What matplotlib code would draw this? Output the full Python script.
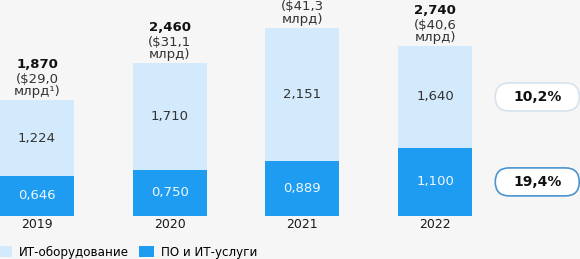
import matplotlib.pyplot as plt
import numpy as np
from matplotlib.patches import FancyBboxPatch

years = ['2019', '2020', '2021', '2022']
hardware = [1.224, 1.710, 2.151, 1.640]
software = [0.646, 0.750, 0.889, 1.100]
totals = ['1,870', '2,460', '3,040', '2,740']
usd = ['($29,0\nмлрд¹)', '($31,1\nмлрд)', '($41,3\nмлрд)', '($40,6\nмлрд)']
growth = ['19,4%', '10,2%']  # ПО, оборудование

c_light = '#d3eafc'
c_dark = '#1e9cf2'
bg = '#f6f6f6'

plt.rcParams['font.family'] = ['DejaVu Sans']

fig = plt.figure(figsize=(5.8, 2.59), dpi=100, facecolor=bg)
ax = fig.add_axes([0, 43/259, 1, 216/259])
ax.set_facecolor(bg)
ax.axis('off')

x = np.arange(len(years))
hw = np.array(hardware)
sw = np.array(software)
w = 0.558

ax.bar(x, sw, width=w, color=c_dark, label='ПО и ИТ-услуги')
ax.bar(x, hw, width=w, bottom=sw, color=c_light, label='ИТ-оборудование')
ax.set_xlim(-0.279, 4.092)
ax.set_ylim(0, 216/62)

fs = 9.5
fmt = lambda v: ('%.3f' % v).replace('.', ',')
for i in range(len(years)):
    ax.text(x[i], sw[i]/2, fmt(sw[i]), ha='center', va='center', color='#eef7ff', fontsize=fs)
    ax.text(x[i], sw[i] + hw[i]/2, fmt(hw[i]), ha='center', va='center', color='#333333', fontsize=fs)
    top = sw[i] + hw[i]
    ax.annotate(usd[i], (x[i], top), xytext=(0, 2), textcoords='offset pixels',
                ha='center', va='bottom', fontsize=fs, color='#333333', linespacing=0.92)
    ax.annotate(totals[i], (x[i], top), xytext=(0, 36), textcoords='offset pixels',
                ha='center', va='center', fontsize=fs, fontweight='bold', color='#111111')
    ax.annotate(years[i], (x[i], 0), xytext=(0, -9), textcoords='offset pixels',
                ha='center', va='center', fontsize=9, color='#1a1a1a', annotation_clip=False)

# pills with growth rates, next to the last bar
px = 3.77
pw, ph = 84/132.7, 28/62
aspect = 132.7/62
ys = [sw[-1]/2, sw[-1] + hw[-1]/2]
edges = ['#4a94d0', '#d6e3ee']
for yy, txt, ec in zip(ys, growth, edges):
    p = FancyBboxPatch((px - pw/2, yy - ph/2), pw, ph,
                       boxstyle='round,pad=0,rounding_size=%f' % (ph/aspect/2),
                       mutation_aspect=aspect, fc='white', ec=ec, lw=1.2, clip_on=False)
    ax.add_patch(p)
    ax.text(px, yy, txt, ha='center', va='center', fontsize=10, fontweight='bold', color='#111111')

h, l = ax.get_legend_handles_labels()
fig.legend(h[::-1], l[::-1], loc='center left', bbox_to_anchor=(-0.005, 7/259), ncol=2,
           frameon=False, fontsize=8.6, handlelength=1.25, handleheight=1.15,
           handletextpad=0.55, columnspacing=0.9, borderpad=0, borderaxespad=0)

plt.savefig('out.png', dpi=100, facecolor=bg)
